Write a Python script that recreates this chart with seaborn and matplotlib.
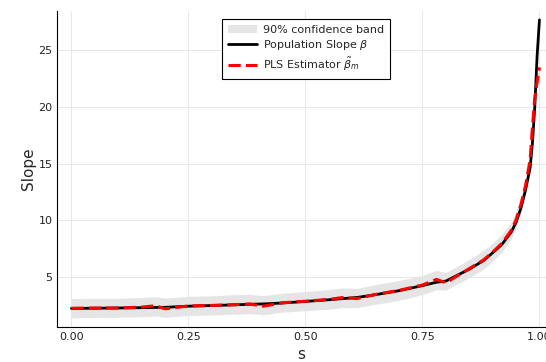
import numpy as np
import pandas as pd
import matplotlib
matplotlib.use('Agg')
import matplotlib.pyplot as plt
import seaborn as sns

# values
s = [0.00, 0.05, 0.10, 0.15, 0.18, 0.20, 0.25, 0.30, 0.35, 0.38, 0.41, 0.45,
     0.50, 0.55, 0.58, 0.61, 0.65, 0.70, 0.75, 0.78, 0.80, 0.85, 0.88, 0.90,
     0.92, 0.94, 0.95, 0.96, 0.97, 0.98, 0.985, 0.99, 0.995, 1.00]
beta = [2.18, 2.20, 2.22, 2.25, 2.27, 2.28, 2.38, 2.44, 2.50, 2.55, 2.58, 2.66,
        2.80, 2.95, 3.05, 3.15, 3.40, 3.75, 4.20, 4.50, 4.60, 5.65, 6.40, 7.10,
        7.85, 8.95, 9.80, 11.0, 12.6, 14.6, 16.8, 20.0, 24.5, 27.7]
beta_hat = [2.20, 2.22, 2.22, 2.30, 2.42, 2.15, 2.40, 2.45, 2.52, 2.58, 2.38, 2.68,
            2.82, 2.98, 3.15, 3.05, 3.42, 3.78, 4.25, 4.75, 4.45, 5.70, 6.45, 7.15,
            7.95, 9.10, 10.0, 11.3, 13.0, 15.3, 18.2, 20.8, 22.2, 23.5]
band_lo = [1.35, 1.38, 1.40, 1.45, 1.50, 1.40, 1.55, 1.60, 1.68, 1.72, 1.62, 1.85,
           1.98, 2.12, 2.25, 2.25, 2.55, 2.90, 3.40, 3.85, 3.80, 4.90, 5.65, 6.35,
           7.15, 8.35, 9.25, 10.6, 12.4, 14.8, 17.7, 20.4, 21.8, 23.1]
band_hi = [3.05, 3.08, 3.08, 3.15, 3.22, 3.10, 3.25, 3.30, 3.40, 3.42, 3.32, 3.52,
           3.68, 3.85, 4.00, 3.95, 4.30, 4.65, 5.10, 5.55, 5.35, 6.50, 7.30, 7.95,
           8.75, 9.85, 10.8, 12.0, 13.6, 15.8, 18.7, 21.2, 22.6, 23.9]

df = pd.DataFrame({'s': s, 'beta': beta, 'beta_hat': beta_hat,
                   'lo': band_lo, 'hi': band_hi})

sns.set_style('white')
plt.rcParams['font.family'] = ['DejaVu Sans']

fig = plt.figure(figsize=(5.46, 3.62), dpi=100)
ax = fig.add_axes([0.105, 0.097, 0.895, 0.873])

ax.fill_between(df['s'], df['lo'], df['hi'], color='#e5e5e5', lw=0,
                label='90% confidence band')
sns.lineplot(data=df, x='s', y='beta', color='black', lw=2.0, ax=ax,
             label=r'Population Slope $\beta$')
sns.lineplot(data=df, x='s', y='beta_hat', color='red', lw=2.2, ax=ax,
             linestyle='--', label=r'PLS Estimator $\tilde{\beta}_m$')
ax.lines[-1].set_dashes([4, 1.7])

ax.set_xlim(-0.03, 1.014)
ax.set_ylim(0.55, 28.5)
ax.set_xticks([0.0, 0.25, 0.5, 0.75, 1.0])
ax.set_xticklabels(['0.00', '0.25', '0.50', '0.75', '1.00'])
ax.set_yticks([5, 10, 15, 20, 25])
ax.grid(True, color='#e8e8e8', lw=0.7)
ax.tick_params(direction='in', length=4, width=0.8, colors='black',
               labelsize=8, labelcolor='#222222')
for side in ['top', 'right']:
    ax.spines[side].set_visible(False)
for side in ['left', 'bottom']:
    ax.spines[side].set_color('black')
    ax.spines[side].set_linewidth(0.8)
ax.set_xlabel('s', fontsize=11)
ax.set_ylabel('Slope', fontsize=11, labelpad=2)

leg = ax.legend(loc='upper left', bbox_to_anchor=(0.337, 0.975), fontsize=8,
                frameon=True, fancybox=False, framealpha=1, borderpad=0.55,
                borderaxespad=0, handlelength=2.6, labelspacing=0.3,
                handletextpad=0.5)
leg.get_frame().set_edgecolor('black')
leg.get_frame().set_linewidth(0.8)

fig.savefig('out.png', dpi=100)
